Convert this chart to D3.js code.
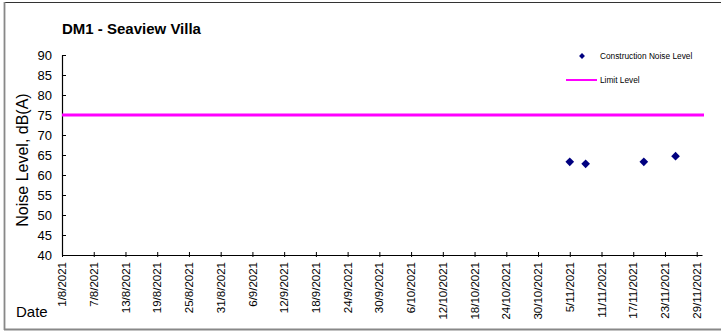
<!DOCTYPE html>
<html>
<head>
<meta charset="utf-8">
<script src="https://cdn.jsdelivr.net/npm/d3@7"></script>
<style>
  html, body { margin: 0; padding: 0; background: #fff; }
  svg { display: block; font-family: "Liberation Sans", Arial, sans-serif; }
</style>
</head>
<body>
<svg id="chart" width="721" height="331"></svg>
<script>
// Measurement dates and construction noise levels, dB(A)
const measureDates = ["2021-11-05", "2021-11-08", "2021-11-19", "2021-11-25"];
const noiseLevels = [63.3, 62.8, 63.3, 64.7];

// Limit level, dB(A)
const limitLevel = 75;

// Axis settings
const xStart = "2021-08-01";
const xEnd = "2021-11-30";
const xLastTick = "2021-11-29";
const xTickStepDays = 6;
const yTicks = [40, 45, 50, 55, 60, 65, 70, 75, 80, 85, 90];

const title = "DM1 - Seaview Villa";
const yTitle = "Noise Level, dB(A)";
const xTitle = "Date";
const legendLabels = ["Construction Noise Level", "Limit Level"];

const parse = d3.utcParse("%Y-%m-%d");
const fmt = d3.utcFormat("%-d/%-m/%Y");

const svg = d3.select("#chart");
const W = 721, H = 331;
const plot = { left: 62, right: 702, top: 55, bottom: 255 };

// Outer frame
svg.append("line").attr("x1", 4).attr("x2", W).attr("y1", 2.5).attr("y2", 2.5)
  .attr("stroke", "#333").attr("stroke-width", 1.2);
svg.append("line").attr("x1", 4.5).attr("x2", 4.5).attr("y1", 2).attr("y2", 330)
  .attr("stroke", "#888").attr("stroke-width", 1.8);
svg.append("line").attr("x1", 4).attr("x2", W).attr("y1", 329.5).attr("y2", 329.5)
  .attr("stroke", "#888").attr("stroke-width", 1.8);

const x = d3.scaleUtc()
  .domain([parse(xStart), parse(xEnd)])
  .range([plot.left, plot.right]);
const y = d3.scaleLinear()
  .domain([40, 90])
  .range([plot.bottom, plot.top]);

// Date ticks every 6 days from the start date
const xTicks = d3.utcDay.range(parse(xStart), d3.utcDay.offset(parse(xLastTick), 1))
  .filter((d, i) => i % xTickStepDays === 0);

// Y axis: ticks drawn inward
const yAxis = svg.append("g").attr("transform", `translate(${plot.left},0)`)
  .call(d3.axisRight(y).tickValues(yTicks).tickSize(4).tickSizeOuter(0).tickFormat(""));
yAxis.select(".domain").attr("stroke", "#000").attr("stroke-width", 1.2);
yAxis.selectAll(".tick line").attr("stroke", "#000");
svg.append("g").selectAll("text").data(yTicks).join("text")
  .attr("x", 52).attr("y", d => y(d)).attr("dy", "0.36em")
  .attr("text-anchor", "end").attr("font-size", 13).attr("fill", "#000")
  .text(d => d);

// X axis: cross ticks, vertical date labels
const xAxis = svg.append("g").attr("transform", `translate(0,${plot.bottom})`)
  .call(d3.axisBottom(x).tickValues(xTicks).tickSize(2).tickSizeOuter(0).tickFormat(""));
xAxis.select(".domain").attr("stroke", "#000").attr("stroke-width", 1.2);
xAxis.selectAll(".tick line").attr("y1", -3).attr("y2", 2).attr("stroke", "#000");
svg.append("g").selectAll("text").data(xTicks).join("text")
  .attr("transform", d => `translate(${x(d)},${plot.bottom + 7}) rotate(-90)`)
  .attr("dy", "0.36em").attr("text-anchor", "end")
  .attr("font-size", 11.5).attr("fill", "#000")
  .text(d => fmt(d));

// Limit level line
svg.append("line")
  .attr("x1", x(parse(xStart))).attr("x2", 704)
  .attr("y1", y(limitLevel)).attr("y2", y(limitLevel))
  .attr("stroke", "#ff00ff").attr("stroke-width", 3);

// Noise measurement markers
const diamond = d3.symbol().type(d3.symbolDiamond2);
svg.append("g").selectAll("path").data(measureDates.map((d, i) => ({ d: parse(d), v: noiseLevels[i] })))
  .join("path")
  .attr("transform", p => `translate(${x(p.d)},${y(p.v)})`)
  .attr("d", diamond.size(48)())
  .attr("fill", "#000080");

// Titles
svg.append("text").attr("x", 62).attr("y", 34)
  .attr("font-size", 15).attr("font-weight", "bold").text(title);
svg.append("text")
  .attr("transform", `translate(28,${(plot.top + plot.bottom) / 2 + 5}) rotate(-90)`)
  .attr("text-anchor", "middle").attr("font-size", 16).text(yTitle);
svg.append("text").attr("x", 16).attr("y", 317)
  .attr("font-size", 15).text(xTitle);

// Legend
const lg = svg.append("g");
lg.append("path").attr("transform", "translate(582,56)")
  .attr("d", d3.symbol().type(d3.symbolDiamond2).size(22)()).attr("fill", "#000080");
lg.append("text").attr("x", 600).attr("y", 56).attr("dy", "0.35em")
  .attr("font-size", 8.3).text(legendLabels[0]);
lg.append("line").attr("x1", 566).attr("x2", 597).attr("y1", 80).attr("y2", 80)
  .attr("stroke", "#ff00ff").attr("stroke-width", 2);
lg.append("text").attr("x", 600).attr("y", 80).attr("dy", "0.35em")
  .attr("font-size", 8.3).text(legendLabels[1]);
</script>
</body>
</html>
